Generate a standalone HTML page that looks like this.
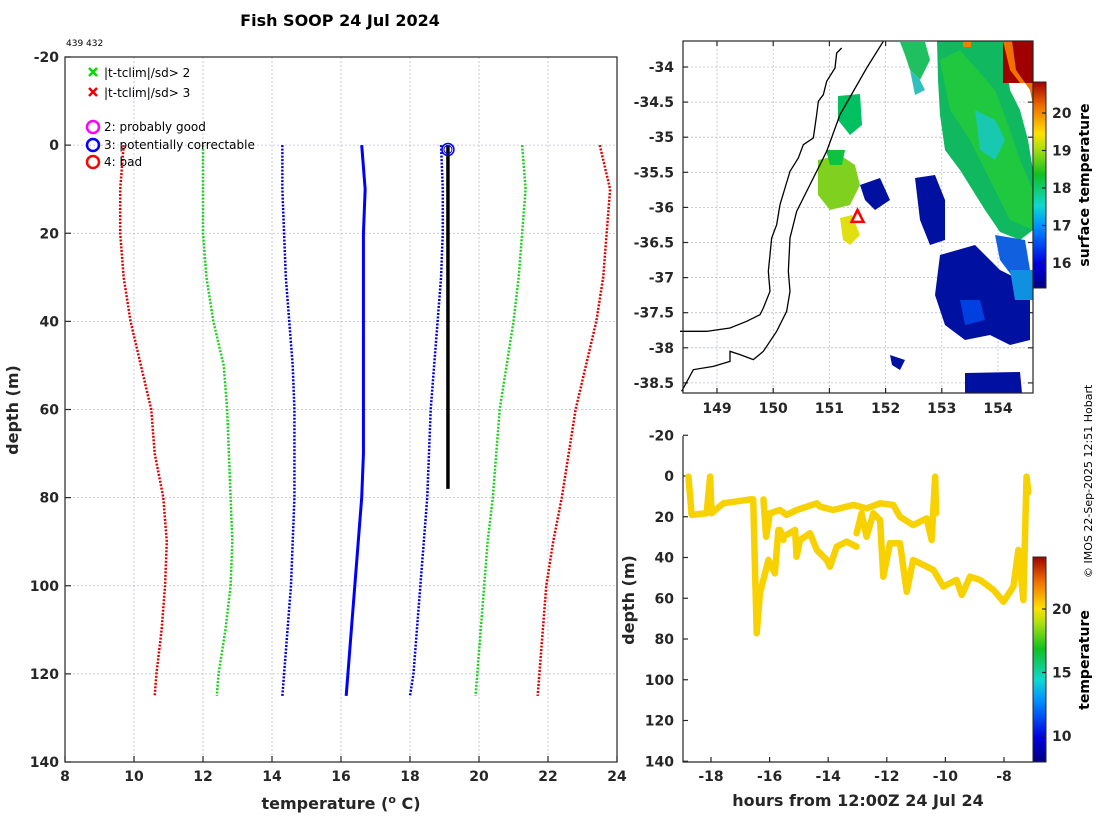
<!DOCTYPE html>
<html><head><meta charset="utf-8"><style>
body{margin:0;background:#fff;width:1100px;height:820px;overflow:hidden}
svg{font-family:"DejaVu Sans","Liberation Sans",sans-serif}
.tk{font-size:14px;font-weight:bold;fill:#262626}
.ax{stroke:#262626;stroke-width:1.2;fill:none}
.gr{stroke:#b8bcd8;stroke-width:0.8;stroke-dasharray:2,2}
</style></head><body>
<svg id="s" width="1100" height="820" viewBox="0 0 1100 820" xmlns="http://www.w3.org/2000/svg">
<defs>
<linearGradient id="jet" x1="0" y1="1" x2="0" y2="0">
<stop offset="0" stop-color="#00007f"/><stop offset="0.12" stop-color="#0000e0"/><stop offset="0.3" stop-color="#0090ff"/><stop offset="0.4" stop-color="#10d8d0"/><stop offset="0.55" stop-color="#10c020"/><stop offset="0.68" stop-color="#b0e010"/><stop offset="0.75" stop-color="#ffe000"/><stop offset="0.88" stop-color="#f07000"/><stop offset="1" stop-color="#a00000"/>
</linearGradient>
</defs>
<text x="340" y="26" text-anchor="middle" font-size="16" font-weight="bold" fill="#000">Fish SOOP 24 Jul 2024</text>
<text x="66" y="46" font-size="9" fill="#000">439 432</text>
<g id="main"></g>
<g id="map"></g>
<g id="track"></g>
<text transform="translate(1092,578) rotate(-90)" font-size="11" fill="#000">© IMOS 22-Sep-2025 12:51 Hobart</text>
</svg>
<script>
// ---------- profile data ----------
const depths=[0,10,20,30,40,50,60,70,80,90,100,110,120,125];
const redLeft=[9.7,9.6,9.6,9.7,9.9,10.2,10.5,10.6,10.85,10.95,10.9,10.8,10.65,10.6];
const greenLeft=[12.0,12.0,12.0,12.1,12.3,12.6,12.7,12.75,12.8,12.85,12.8,12.65,12.45,12.4];
const blueLeft=[14.3,14.3,14.35,14.4,14.5,14.6,14.65,14.65,14.65,14.6,14.55,14.45,14.35,14.3];
const climMean=[16.6,16.7,16.65,16.65,16.65,16.65,16.65,16.65,16.6,16.5,16.4,16.3,16.2,16.15];
const blueRight=[18.9,18.95,18.95,18.9,18.8,18.7,18.6,18.55,18.5,18.4,18.3,18.2,18.1,18.0];
const greenRight=[21.25,21.35,21.25,21.15,21.0,20.8,20.6,20.5,20.4,20.25,20.15,20.05,19.95,19.9];
const redRight=[23.5,23.8,23.7,23.6,23.4,23.1,22.8,22.6,22.4,22.15,21.95,21.85,21.75,21.7];
const obsDepth=[0,78];
const obsTemp=[19.1,19.1];
const xTicks=[8,10,12,14,16,18,20,22,24];
const yTicks=[-20,0,20,40,60,80,100,120,140];
// ---------- track data ----------
const trackA=[[-18.77,0.3],[-18.66,19.1],[-18.15,18.3],[-18.03,0.3],[-17.98,18.3],[-17.58,13.4],[-16.67,11.5],[-16.56,11.5],[-16.44,77.2],[-16.33,57.6],[-16.04,41.2],[-15.82,47.8],[-15.70,26.5],[-15.53,31.4]];
const trackB=[[-15.65,26.5],[-15.53,29.8],[-15.13,26.5],[-15.08,39.6],[-14.96,31.4],[-14.62,28.1],[-14.39,36.3],[-14.05,41.2],[-13.94,44.5],[-13.71,34.7],[-13.37,32.2],[-13.03,34.7]];
const trackC=[[-16.21,11.5],[-16.12,29.8],[-15.99,18.3],[-15.65,16.7],[-15.42,19.1],[-15.08,16.7],[-14.39,13.4],[-14.28,15.0],[-13.83,16.7],[-13.14,14.2],[-12.69,15.9],[-12.23,13.4],[-11.78,14.2],[-11.55,20.0],[-11.10,24.1],[-10.64,20.8],[-10.47,31.4],[-10.35,0.3],[-10.32,18.3]];
const trackD=[[-13.03,28.1],[-12.86,18.3],[-12.69,29.8],[-12.46,18.3],[-12.23,21.6],[-12.12,49.4],[-11.89,33.0],[-11.55,33.0],[-11.32,56.8],[-11.10,41.2],[-10.41,46.1],[-10.07,54.3],[-9.62,51.0],[-9.44,58.4],[-9.16,49.4],[-8.82,51.0],[-8.36,55.9],[-8.02,61.7],[-7.68,54.3],[-7.51,36.3],[-7.34,60.9],[-7.23,0.3],[-7.17,8]];
const hTicks=[-18,-16,-14,-12,-10,-8];
const dTicks=[-20,0,20,40,60,80,100,120,140];
const lonTicks=[149,150,151,152,153,154];
const latTicks=[-34,-34.5,-35,-35.5,-36,-36.5,-37,-37.5,-38,-38.5];
const sstTicks=[16,17,18,19,20];
const tempTicks=[10,15,20];
const shipLon=151.5, shipLat=-36.15;

const NS='http://www.w3.org/2000/svg';
function mk(parent,tag,attrs,txt){const e=document.createElementNS(NS,tag);for(const k in attrs)e.setAttribute(k,attrs[k]);if(txt!==undefined)e.textContent=txt;parent.appendChild(e);return e;}

// ---------- main profile ----------
const M=document.getElementById('main');
const X0=65,X1=617,Y0=57,Y1=762;
const sx=t=>X0+(t-8)/16*(X1-X0);
const sy=d=>Y0+(d+20)/160*(Y1-Y0);
xTicks.forEach(t=>{
  const l=mk(M,'line',{x1:sx(t),x2:sx(t),y1:Y0,y2:Y1,class:'gr'});
  
  
  mk(M,'line',{x1:sx(t),x2:sx(t),y1:Y1,y2:Y1-6,class:'ax'});
  const tx=mk(M,'text',{x:sx(t),y:Y1+19,'text-anchor':'middle',class:'tk'},t);
  
  
});
yTicks.forEach(d=>{
  const l=mk(M,'line',{x1:X0,x2:X1,y1:sy(d),y2:sy(d),class:'gr'});
  
  
  mk(M,'line',{x1:X0,x2:X0+6,y1:sy(d),y2:sy(d),class:'ax'});
  const tx=mk(M,'text',{x:X0-6,y:sy(d)+5,'text-anchor':'end',class:'tk'},d);
  
  
});
mk(M,'rect',{x:X0,y:Y0,width:X1-X0,height:Y1-Y0,class:'ax'});
function prof(arr,color,dash,w,name){
  const p=mk(M,'polyline',{points:arr.map((t,i)=>sx(t)+','+sy(depths[i])).join(' '),fill:'none',stroke:color,'stroke-width':w,'stroke-dasharray':dash});
  
  
}
prof(redLeft,'#e00000','2,1.5',2.5,'clim-minus-3sd');
prof(greenLeft,'#20d020','2,1.5',2.5,'clim-minus-2sd');
prof(blueLeft,'#0000e0','2,1.5',2.5,'clim-minus-1sd');
prof(climMean,'#0000ff','none',3,'clim-mean');
prof(blueRight,'#0000e0','2,1.5',2.5,'clim-plus-1sd');
prof(greenRight,'#20d020','2,1.5',2.5,'clim-plus-2sd');
prof(redRight,'#e00000','2,1.5',2.5,'clim-plus-3sd');
const ob=mk(M,'polyline',{points:obsTemp.map((t,i)=>sx(t)+','+sy(obsDepth[i])).join(' '),fill:'none',stroke:'#000','stroke-width':3.5});


const oc=mk(M,'circle',{cx:sx(obsTemp[0]),cy:sy(1),r:6,fill:'none',stroke:'#0000ff','stroke-width':1.5});


mk(M,'circle',{cx:sx(obsTemp[0]),cy:sy(1),r:4,fill:'none',stroke:'#0000ff','stroke-width':1});
// legend
const lg=mk(M,'g',{});


const legItems=[['x','#00dd00','|t-tclim|/sd> 2',73],['x','#ee0000','|t-tclim|/sd> 3',93],['o','#ff00ff','2: probably good',127],['o','#0000ff','3: potentially correctable',145],['o','#ff0000','4: bad',162]];
legItems.forEach(([m,c,t,y])=>{
  const g=mk(lg,'g',{});
  
  
  if(m==='x'){mk(g,'path',{d:`M89 ${y-5}l8 8M97 ${y-5}l-8 8`,stroke:c,'stroke-width':2.5});mk(g,'text',{x:104,y:y+4,'font-size':12,fill:'#000'},t);}
  else{mk(g,'circle',{cx:93,cy:y,r:6,fill:'none',stroke:c,'stroke-width':2.5});mk(g,'text',{x:104,y:y+4,'font-size':12,fill:'#000'},t);}
});
const xl=mk(M,'text',{x:341,y:809,'text-anchor':'middle','font-size':16,'font-weight':'bold',fill:'#262626'});
xl.innerHTML='temperature (<tspan dy="-6" font-size="11">o</tspan><tspan dy="6"> C)</tspan>';


const yl=mk(M,'text',{transform:'translate(18,410) rotate(-90)','text-anchor':'middle','font-size':16,'font-weight':'bold',fill:'#262626'},'depth (m)');



// ---------- map ----------
const P=document.getElementById('map');
const MX0=683,MX1=1033,MY0=41,MY1=393;
const mx=lon=>717+(lon-149)*56.2;
const my=lat=>67+(-34-lat)*70.2;
lonTicks.forEach(l=>{mk(P,'line',{x1:mx(l),x2:mx(l),y1:MY0,y2:MY1,class:'gr'});mk(P,'line',{x1:mx(l),x2:mx(l),y1:MY1,y2:MY1-5,class:'ax'});mk(P,'line',{x1:mx(l),x2:mx(l),y1:MY0,y2:MY0+5,class:'ax'});
  const t=mk(P,'text',{x:mx(l),y:MY1+20,'text-anchor':'middle',class:'tk'},l);
  
  });
latTicks.forEach(l=>{mk(P,'line',{x1:MX0,x2:MX1,y1:my(l),y2:my(l),class:'gr'});mk(P,'line',{x1:MX0,x2:MX0+5,y1:my(l),y2:my(l),class:'ax'});mk(P,'line',{x1:MX1,x2:MX1-5,y1:my(l),y2:my(l),class:'ax'});
  const t=mk(P,'text',{x:MX0-9,y:my(l)+5,'text-anchor':'end',class:'tk'},l);
  
  });
const patches=[
 ['#10b860','937,41 1003,41 1010,90 1020,110 1028,140 1033,170 1033,230 1020,240 1000,232 985,210 960,170 945,150 940,115 938,80'],
 ['#20c840','940,60 960,50 995,90 1010,130 1020,160 1033,190 1033,230 1010,220 990,180 970,140 950,110'],
 ['#18c8b0','975,110 995,120 1005,140 995,160 980,150'],
 ['#20c060','900,42 925,42 930,60 920,80 910,70 905,55'],
 ['#30c0c0','910,70 920,80 925,90 915,95'],
 ['#00c060','838,96 860,94 862,125 850,135 838,120'],
 ['#80d020','818,160 840,155 855,165 860,185 850,205 830,210 818,195'],
 ['#10c040','826,150 845,150 842,165 830,165'],
 ['#e0e010','840,218 852,215 860,235 850,245 843,240'],
 ['#0010a0','940,255 975,245 1000,270 1020,280 1030,300 1030,340 1010,345 990,335 965,340 945,325 935,295'],
 ['#0040e0','960,300 980,300 985,320 965,325'],
 ['#0010a0','915,178 935,175 945,200 945,240 930,245 920,220'],
 ['#1060e0','995,235 1025,240 1030,270 1015,280 1000,260'],
 ['#0010a0','965,373 1020,372 1022,393 965,393'],
 ['#0010a0','890,355 905,360 900,370 892,365'],
 ['#1090e0','1010,270 1033,270 1033,300 1015,300'],
 ['#0010a0','860,185 880,178 890,200 875,210 865,200']
];
patches.forEach(([c,pts])=>{const p=mk(P,'polygon',{points:pts,fill:c});
  
  });
mk(P,'rect',{x:1003,y:41,width:30,height:42,fill:'#a00000'});
mk(P,'polygon',{points:'1003,41 1012,41 1016,70 1030,90 1033,105 1033,83 1020,83 1010,70',fill:'#f07000'});
mk(P,'rect',{x:963,y:41,width:8,height:6,fill:'#f08000'});
const coastZ=[[485,30],[470,45],[465,90],[440,130],[430,170],[415,190],[410,230],[400,300],[370,320],[355,360],[330,400],[315,450],[300,500],[290,560],[275,600],[265,700],[270,760],[250,810],[240,830],[200,850],[150,870],[80,880],[0,880]];
const isoZ=[[610,10],[560,90],[480,230],[440,340],[400,420],[350,520],[330,600],[325,700],[330,760],[320,820],[290,880],[250,940],[220,965],[180,950],[150,940],[150,970],[100,985],[40,995],[5,1060]];
const cl=mk(P,'polyline',{points:coastZ.map(([a,b])=>(680+a/3)+','+(38+b/3)).join(' '),fill:'none',stroke:'#000','stroke-width':1.3});


const iso=mk(P,'polyline',{points:isoZ.map(([a,b])=>(680+a/3)+','+(38+b/3)).join(' '),fill:'none',stroke:'#000','stroke-width':1.3});


const sh=mk(P,'polygon',{points:`${mx(shipLon)},${my(shipLat)-8} ${mx(shipLon)-6},${my(shipLat)+4} ${mx(shipLon)+6},${my(shipLat)+4}`,fill:'none',stroke:'#ff0000','stroke-width':2.5});


mk(P,'rect',{x:MX0,y:MY0,width:MX1-MX0,height:MY1-MY0,class:'ax'});
const cb1=mk(P,'rect',{x:1033,y:82,width:13,height:206,fill:'url(#jet)',stroke:'#262626','stroke-width':1});


const c1y=v=>263-(v-16)*37.5;
sstTicks.forEach(v=>{mk(P,'line',{x1:1042,x2:1046,y1:c1y(v),y2:c1y(v),class:'ax'});mk(P,'text',{x:1052,y:c1y(v)+5,class:'tk'},v);});
const cbt=mk(P,'text',{transform:'translate(1089,185) rotate(-90)','text-anchor':'middle','font-size':14,'font-weight':'bold',fill:'#000'},'surface temperature');



// ---------- track plot ----------
const T=document.getElementById('track');
const TX0=683,TX1=1033,TY0=436,TY1=762;
const tx=h=>711+(h+18)*29.3;
const ty=d=>476+d*2.0375;
hTicks.forEach(h=>{mk(T,'line',{x1:tx(h),x2:tx(h),y1:TY1,y2:TY1-5,class:'ax'});
  const t=mk(T,'text',{x:tx(h),y:TY1+19,'text-anchor':'middle',class:'tk'},h);
  
  });
dTicks.forEach(d=>{mk(T,'line',{x1:TX0,x2:TX0+5,y1:ty(d),y2:ty(d),class:'ax'});
  const t=mk(T,'text',{x:TX0-9,y:ty(d)+5,'text-anchor':'end',class:'tk'},d);
  
  });
[trackA,trackB,trackC,trackD].forEach(tr=>{
  const p=mk(T,'polyline',{points:tr.map(([h,d])=>tx(h)+','+ty(d)).join(' '),fill:'none',stroke:'#f7d200','stroke-width':6.5,'stroke-linejoin':'round','stroke-linecap':'round'});
  
  
});
mk(T,'polyline',{points:`${TX0},${TY0} ${TX0},${TY1} ${TX1},${TY1}`,class:'ax'});
const cb2=mk(T,'rect',{x:1033,y:557,width:13,height:205,fill:'url(#jet)',stroke:'#262626','stroke-width':1});


const c2y=v=>736-(v-10)*12.7;
tempTicks.forEach(v=>{mk(T,'line',{x1:1042,x2:1046,y1:c2y(v),y2:c2y(v),class:'ax'});mk(T,'text',{x:1052,y:c2y(v)+5,class:'tk'},v);});
const c2t=mk(T,'text',{transform:'translate(1089,660) rotate(-90)','text-anchor':'middle','font-size':14,'font-weight':'bold',fill:'#000'},'temperature');


const txl=mk(T,'text',{x:858,y:806,'text-anchor':'middle','font-size':16,'font-weight':'bold',fill:'#262626'},'hours from 12:00Z 24 Jul 24');


const tyl=mk(T,'text',{transform:'translate(634,600) rotate(-90)','text-anchor':'middle','font-size':16,'font-weight':'bold',fill:'#262626'},'depth (m)');


</script>
</body></html>
